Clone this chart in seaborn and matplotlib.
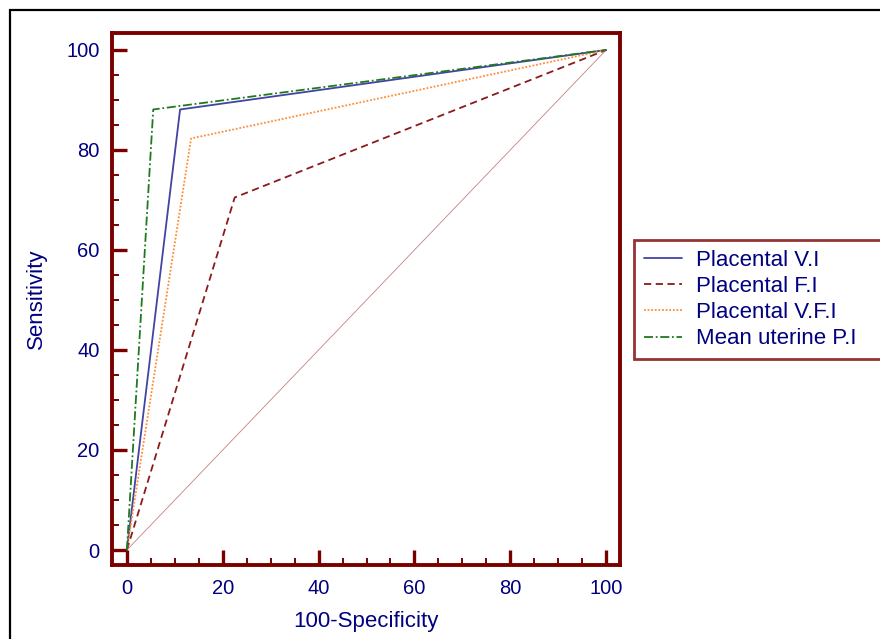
import matplotlib
matplotlib.use("Agg")
import numpy as np
import pandas as pd
import seaborn as sns
import matplotlib.pyplot as plt
from matplotlib.patches import Rectangle
from matplotlib.ticker import MultipleLocator

# ROC curve points (100-Specificity, Sensitivity)
series_names = ["Placental V.I", "Placental F.I", "Placental V.F.I", "Mean uterine P.I"]
fpr_vi = [0, 11.1, 100]
tpr_vi = [0, 88.1, 100]
fpr_fi = [0, 22.5, 100]
tpr_fi = [0, 70.5, 100]
fpr_vfi = [0, 13.4, 100]
tpr_vfi = [0, 82.3, 100]
fpr_pi = [0, 5.5, 100]
tpr_pi = [0, 88.1, 100]
diag = [0, 100]

colors = ["#4343a3", "#8b1a1a", "#ff8c33", "#1f7a1f"]
styles = ["-", (0, (4, 2.5)), (0, (1, 1)), (0, (5, 1.5, 1, 1.5))]
frame_red = "#7a0000"
navy = "#000080"

sns.set_theme(style="white")
plt.rcParams["font.family"] = ["Liberation Sans", "DejaVu Sans"]

df = pd.concat([
    pd.DataFrame({"x": fpr_vi, "y": tpr_vi, "name": series_names[0]}),
    pd.DataFrame({"x": fpr_fi, "y": tpr_fi, "name": series_names[1]}),
    pd.DataFrame({"x": fpr_vfi, "y": tpr_vfi, "name": series_names[2]}),
    pd.DataFrame({"x": fpr_pi, "y": tpr_pi, "name": series_names[3]}),
])

fig = plt.figure(figsize=(8.8, 6.39), dpi=100)
ax = fig.add_axes([0.1273, 0.1158, 0.5773, 0.8326])

# reference diagonal
ax.plot(diag, diag, color="#c88080", lw=0.6, zorder=1)

for name, c, ls in zip(series_names, colors, styles):
    sub = df[df["name"] == name]
    sns.lineplot(data=sub, x="x", y="y", ax=ax, color=c, lw=1.3,
                 label=name, sort=False, estimator=None, zorder=3)
    ax.lines[-1].set_linestyle(ls)

ax.set_xlim(-3.1, 102.9)
ax.set_ylim(-3.0, 103.4)
ax.xaxis.set_major_locator(MultipleLocator(20))
ax.xaxis.set_minor_locator(MultipleLocator(5))
ax.yaxis.set_major_locator(MultipleLocator(20))
ax.yaxis.set_minor_locator(MultipleLocator(5))
ax.tick_params(which="major", direction="in", length=10.8, width=2.4,
               color=frame_red, labelcolor=navy, labelsize=14.5,
               bottom=True, left=True, top=False, right=False)
ax.tick_params(which="minor", direction="in", length=5.0, width=1.4,
               color=frame_red, bottom=True, left=True, top=False, right=False)
ax.tick_params(axis="x", which="major", pad=10.2)
ax.tick_params(axis="y", which="major", pad=9)

for sp in ax.spines.values():
    sp.set_visible(True)
    sp.set_color(frame_red)
    sp.set_linewidth(2.8)

ax.set_xlabel("100-Specificity", color=navy, fontsize=16, labelpad=9.5)
ax.set_ylabel("Sensitivity", color=navy, fontsize=16, labelpad=14)
ax.grid(False)

# legend box runs past the right edge of the cropped screenshot
leg_top = 1 - 240 / 639
leg = ax.legend(loc="upper left", bbox_to_anchor=(0.7205, leg_top - 0.1, 0.30, 0.1),
                bbox_transform=fig.transFigure, mode="expand",
                fancybox=False, frameon=True,
                fontsize=16, handlelength=1.7, labelspacing=0.23,
                borderpad=0.45, handletextpad=0.65, borderaxespad=0)
leg.get_frame().set_edgecolor(frame_red)
leg.get_frame().set_linewidth(2)
for t in leg.get_texts():
    t.set_color(navy)
for h, ls in zip(leg.get_lines(), styles):
    h.set_linestyle(ls)

# outer screenshot frame
fig.patches.append(Rectangle((10 / 880, -0.05), 1.1, 1 - 10 / 639 + 0.05,
                             transform=fig.transFigure, fill=False,
                             edgecolor="black", lw=1.6))

fig.savefig("out.png", dpi=100)
